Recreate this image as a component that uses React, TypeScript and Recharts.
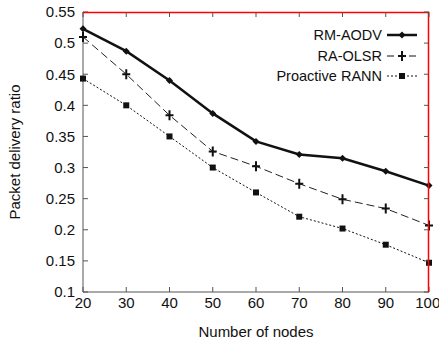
import React from "react"
import { LineChart, Line, XAxis, YAxis } from "recharts"

const nodes = [20, 30, 40, 50, 60, 70, 80, 90, 100]
const rmAodv = [0.523, 0.487, 0.44, 0.387, 0.342, 0.321, 0.315, 0.294, 0.271]
const raOlsr = [0.51, 0.45, 0.384, 0.326, 0.302, 0.274, 0.249, 0.234, 0.207]
const proactiveRann = [0.443, 0.4, 0.35, 0.3, 0.26, 0.221, 0.202, 0.176, 0.147]

const xTicks = [20, 30, 40, 50, 60, 70, 80, 90, 100]
const yTicks = [0.1, 0.15, 0.2, 0.25, 0.3, 0.35, 0.4, 0.45, 0.5, 0.55]

const data = nodes.map((n, i) => ({
  n,
  rm: rmAodv[i],
  ra: raOlsr[i],
  pr: proactiveRann[i],
}))

const FONT = "'Liberation Sans', Arial, sans-serif"
const INK = "#111"
const AXIS = "#555"

const W = 439
const H = 342
const M_TOP = 12
const M_RIGHT = 10
const Y_W = 83
const X_H = 50

const Diamond = ({ cx, cy }: any) => (
  <polygon points={`${cx},${cy - 3.5} ${cx + 3.5},${cy} ${cx},${cy + 3.5} ${cx - 3.5},${cy}`} fill={INK} />
)
const Plus = ({ cx, cy }: any) => (
  <path d={`M${cx - 4},${cy} L${cx + 4},${cy} M${cx},${cy - 5} L${cx},${cy + 5}`} stroke={INK} strokeWidth={2} />
)
const Square = ({ cx, cy }: any) => (
  <rect x={cx - 3} y={cy - 3} width={6} height={6} fill={INK} />
)

const legendItems = [
  { name: "RM-AODV", width: 2.5, dash: undefined, Mark: Diamond },
  { name: "RA-OLSR", width: 1, dash: "7 4", Mark: Plus },
  { name: "Proactive RANN", width: 1, dash: "2 2", Mark: Square },
]

function LegendBox() {
  return (
    <div style={{ position: "absolute", top: 25, left: 200, width: 221, fontFamily: FONT, fontSize: 14.5, color: INK }}>
      {legendItems.map((it) => (
        <div key={it.name} style={{ display: "flex", justifyContent: "flex-end", alignItems: "center", height: 20.5 }}>
          <span>{it.name}</span>
          <svg width={36} height={12} style={{ marginLeft: 3 }}>
            <line x1={2} y1={6} x2={32} y2={6} stroke={INK} strokeWidth={it.width} strokeDasharray={it.dash} />
            <it.Mark cx={17} cy={6} />
          </svg>
        </div>
      ))}
    </div>
  )
}

// top and right edges of the plot box, with inward ticks
function Frame() {
  const left = Y_W
  const right = W - M_RIGHT
  const top = M_TOP
  const bottom = H - X_H
  const sx = (v: number) => left + ((v - 20) / 80) * (right - left)
  const sy = (v: number) => bottom - ((v - 0.1) / 0.45) * (bottom - top)
  return (
    <svg width={W} height={H} style={{ position: "absolute", left: 0, top: 0, pointerEvents: "none" }}>
      <path d={`M${left},${top + 0.5} H${right - 0.5} V${bottom}`} fill="none" stroke="red" strokeWidth={1.5} />
      {xTicks.map((t) => (
        <line key={`x${t}`} x1={sx(t)} x2={sx(t)} y1={top} y2={top + 5} stroke={AXIS} />
      ))}
      {yTicks.map((t) => (
        <line key={`y${t}`} x1={right} x2={right - 5} y1={sy(t)} y2={sy(t)} stroke={AXIS} />
      ))}
    </svg>
  )
}

export default function App() {
  const tickStyle = { fontFamily: FONT, fontSize: 15, fill: INK }
  return (
    <div style={{ position: "absolute", left: 0, top: 0, width: W, height: H, background: "#fff" }}>
      <LineChart width={W} height={H} data={data} margin={{ top: M_TOP, right: M_RIGHT, bottom: 0, left: 0 }}>
        <XAxis
          dataKey="n"
          type="number"
          domain={[20, 100]}
          ticks={xTicks}
          stroke={AXIS}
          tickSize={-5}
          tickMargin={10}
          tick={tickStyle}
          height={X_H}
          label={{
            content: ({ viewBox }: any) => (
              <text x={viewBox.x + viewBox.width / 2} y={337} textAnchor="middle" style={tickStyle}>
                Number of nodes
              </text>
            ),
          }}
        />
        <YAxis
          type="number"
          domain={[0.1, 0.55]}
          ticks={yTicks}
          stroke={AXIS}
          tickSize={-5}
          tickMargin={13}
          width={Y_W}
          tick={tickStyle}
          tickFormatter={(v: number) => String(Number(v.toFixed(2)))}
          label={{
            content: ({ viewBox }: any) => (
              <text
                x={20}
                y={viewBox.y + viewBox.height / 2}
                textAnchor="middle"
                transform={`rotate(-90, 20, ${viewBox.y + viewBox.height / 2})`}
                style={tickStyle}
              >
                Packet delivery ratio
              </text>
            ),
          }}
        />
        <Line dataKey="pr" stroke={INK} strokeWidth={1} strokeDasharray="2 2" dot={<Square />} isAnimationActive={false} />
        <Line dataKey="ra" stroke="#222" strokeWidth={1} strokeDasharray="8 4" dot={<Plus />} isAnimationActive={false} />
        <Line dataKey="rm" stroke={INK} strokeWidth={2.5} dot={<Diamond />} isAnimationActive={false} />
      </LineChart>
      <Frame />
      <LegendBox />
    </div>
  )
}
